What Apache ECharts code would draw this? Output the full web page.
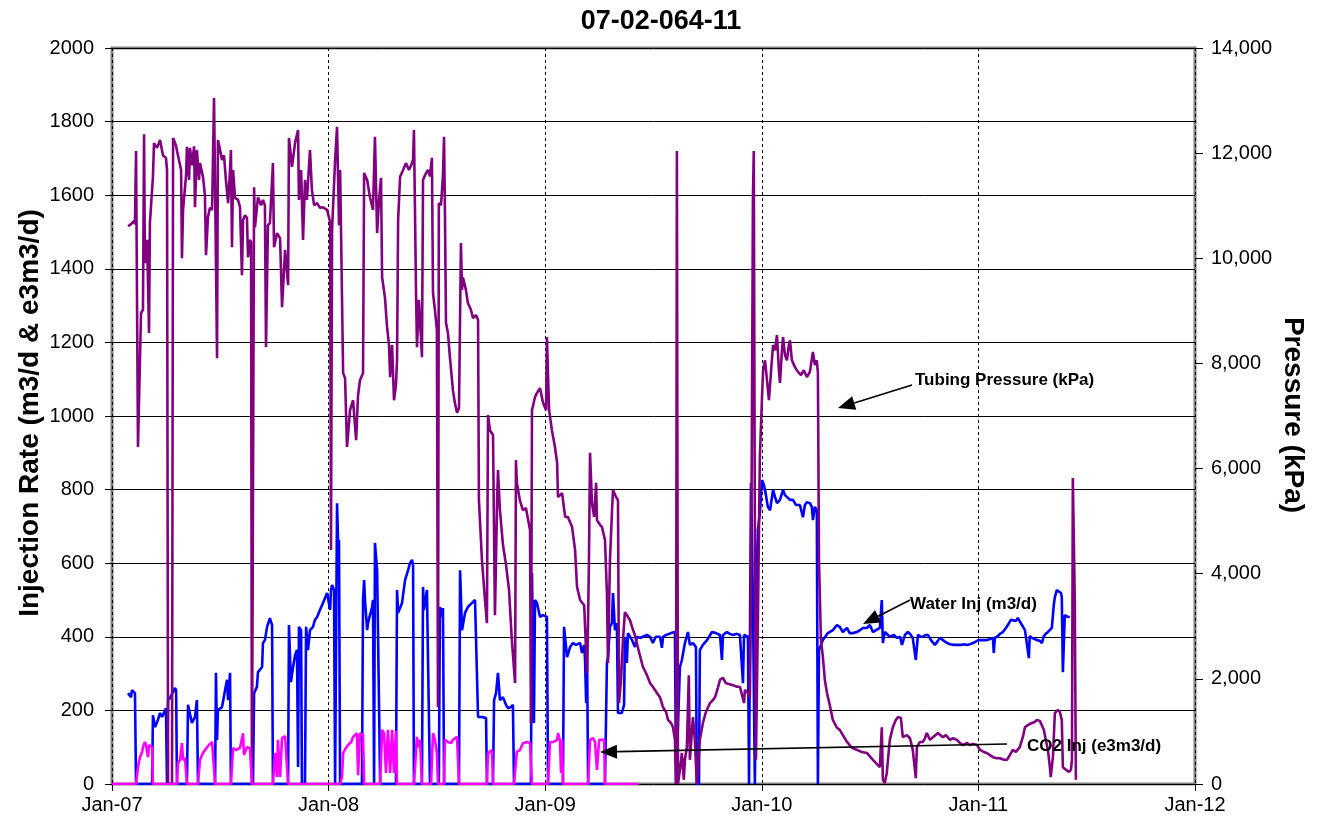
<!DOCTYPE html>
<html>
<head>
<meta charset="utf-8">
<title>07-02-064-11</title>
<script src="https://cdn.jsdelivr.net/npm/echarts@6/dist/echarts.min.js"></script>
<style>
  html, body { margin: 0; padding: 0; background: #ffffff; }
  #main { width: 1319px; height: 827px; }
</style>
</head>
<body>
<div id="main"></div>
<script>
// Well 07-02-064-11 injection history. Dates are decimal years.
const chartTitle = '07-02-064-11';
const yearTicks = [2007, 2008, 2009, 2010, 2011, 2012];
const rateTicks = [0, 200, 400, 600, 800, 1000, 1200, 1400, 1600, 1800, 2000];
const pressureTicks = [0, 2000, 4000, 6000, 8000, 10000, 12000, 14000];

// Tubing pressure, kPa (right axis)
const tubingPressure = [
  [2007.074,10610],[2007.088,10650],[2007.102,10710],[2007.106,10650],[2007.111,12040],[2007.120,6410],
  [2007.134,8960],[2007.143,9020],[2007.148,12360],[2007.152,9910],[2007.162,10350],[2007.171,8580],
  [2007.175,10670],[2007.189,11550],[2007.194,12190],[2007.208,12100],[2007.222,12250],[2007.235,11960],
  [2007.249,11910],[2007.254,11680],[2007.259,0],[2007.277,0],[2007.282,12290],[2007.295,12150],
  [2007.309,11870],[2007.319,11680],[2007.323,10000],[2007.328,10920],[2007.342,11580],[2007.346,12120],
  [2007.356,11490],[2007.360,12100],[2007.369,11770],[2007.379,12130],[2007.383,10970],[2007.392,12060],
  [2007.402,11490],[2007.406,11810],[2007.420,11550],[2007.429,11200],[2007.434,10060],[2007.443,10780],
  [2007.452,10960],[2007.462,10920],[2007.471,13050],[2007.480,9910],[2007.485,8100],[2007.489,12250],
  [2007.499,12060],[2007.508,11870],[2007.517,11960],[2007.526,11490],[2007.536,11050],[2007.545,11680],
  [2007.549,12060],[2007.554,10210],[2007.559,11680],[2007.568,11150],[2007.582,11110],[2007.591,10970],
  [2007.600,9680],[2007.605,10730],[2007.614,10820],[2007.623,10770],[2007.628,10020],[2007.637,10350],
  [2007.642,10310],[2007.646,0],[2007.656,11350],[2007.660,10590],[2007.674,11160],[2007.688,11010],
  [2007.697,11110],[2007.706,11010],[2007.711,8310],[2007.720,10630],[2007.729,10670],[2007.743,11810],
  [2007.748,10210],[2007.762,10480],[2007.776,10380],[2007.785,9070],[2007.799,10160],[2007.813,9490],
  [2007.817,12290],[2007.831,11740],[2007.845,12190],[2007.859,12440],[2007.863,11110],[2007.873,11680],
  [2007.882,10350],[2007.891,11490],[2007.900,11110],[2007.914,12060],[2007.923,11300],[2007.933,11010],
  [2007.947,11050],[2007.960,10960],[2007.974,10970],[2007.993,10920],[2008.007,10690],[2008.011,4450],
  [2008.016,10540],[2008.030,11870],[2008.039,12500],[2008.048,10630],[2008.053,11680],[2008.057,10630],
  [2008.067,7820],[2008.076,7720],[2008.085,6410],[2008.099,7110],[2008.113,7300],[2008.127,6540],
  [2008.136,7400],[2008.145,7680],[2008.159,7820],[2008.164,11620],[2008.178,11490],[2008.191,11160],
  [2008.205,10920],[2008.214,12310],[2008.224,10480],[2008.233,11110],[2008.242,11530],[2008.247,9640],
  [2008.260,9260],[2008.270,8690],[2008.279,8350],[2008.284,7740],[2008.293,8350],[2008.302,7300],
  [2008.311,7590],[2008.316,8060],[2008.321,10730],[2008.330,11550],[2008.344,11680],[2008.357,11810],
  [2008.371,11680],[2008.381,11770],[2008.390,11870],[2008.394,12440],[2008.404,9260],[2008.408,8310],
  [2008.417,9210],[2008.422,8830],[2008.431,8120],[2008.436,11490],[2008.445,11580],[2008.459,11680],
  [2008.468,11560],[2008.477,11910],[2008.482,9340],[2008.491,9020],[2008.500,8640],[2008.505,1460],
  [2008.509,11050],[2008.519,11010],[2008.528,11580],[2008.533,12310],[2008.537,10920],[2008.542,8770],
  [2008.551,8580],[2008.560,8120],[2008.574,7490],[2008.583,7250],[2008.593,7060],[2008.602,7150],
  [2008.611,10290],[2008.616,9400],[2008.620,9640],[2008.634,9400],[2008.643,9150],[2008.657,9020],
  [2008.667,8860],[2008.680,8920],[2008.690,8830],[2008.694,5400],[2008.708,4260],[2008.722,3500],
  [2008.731,3060],[2008.736,7020],[2008.745,6730],[2008.759,6640],[2008.768,3210],[2008.778,5400],
  [2008.782,5970],[2008.791,5210],[2008.805,4550],[2008.819,4170],[2008.833,3690],[2008.846,2740],
  [2008.861,1920],[2008.865,6160],[2008.869,5730],[2008.883,5400],[2008.897,5210],[2008.911,5250],
  [2008.920,5250],[2008.930,4830],[2008.934,1160],[2008.939,7110],[2008.953,7360],[2008.962,7440],
  [2008.976,7530],[2008.990,7250],[2009.004,7110],[2009.008,8500],[2009.018,7110],[2009.031,6730],
  [2009.045,6410],[2009.055,6110],[2009.059,5460],[2009.078,5530],[2009.092,5080],[2009.105,5080],
  [2009.124,4890],[2009.138,4450],[2009.147,3750],[2009.161,3500],[2009.180,3400],[2009.193,2110],
  [2009.198,3120],[2009.202,4260],[2009.207,6300],[2009.216,5340],[2009.226,5080],[2009.235,5730],
  [2009.239,5020],[2009.253,4930],[2009.262,4890],[2009.276,4640],[2009.285,3630],[2009.290,2300],
  [2009.299,4260],[2009.308,5150],[2009.313,5590],[2009.327,5460],[2009.336,5400],[2009.341,1540],
  [2009.350,1980],[2009.359,2740],[2009.368,3270],[2009.382,3180],[2009.391,3120],[2009.401,2990],
  [2009.414,2830],[2009.423,2680],[2009.437,2450],[2009.451,2230],[2009.470,2070],[2009.484,1920],
  [2009.497,1850],[2009.516,1730],[2009.530,1650],[2009.544,1460],[2009.558,1370],[2009.567,1220],
  [2009.581,1160],[2009.590,1080],[2009.599,840],[2009.604,0],[2009.608,12040],[2009.613,0],
  [2009.622,270],[2009.631,590],[2009.640,80],[2009.645,460],[2009.654,700],[2009.663,2070],
  [2009.668,460],[2009.682,1270],[2009.691,840],[2009.700,0],[2009.714,840],[2009.728,1160],
  [2009.742,1370],[2009.761,1540],[2009.775,1600],[2009.784,1650],[2009.797,1830],[2009.807,1980],
  [2009.821,2020],[2009.834,1920],[2009.848,1900],[2009.867,1880],[2009.885,1850],[2009.899,1850],
  [2009.908,1830],[2009.918,1540],[2009.922,1790],[2009.936,1730],[2009.945,1650],[2009.950,3500],
  [2009.954,6540],[2009.959,11110],[2009.963,12040],[2009.968,4770],[2009.973,460],[2009.982,3120],
  [2009.991,6220],[2010.001,7360],[2010.006,7870],[2010.015,8060],[2010.024,7680],[2010.033,7300],
  [2010.043,7870],[2010.052,8350],[2010.061,8250],[2010.070,8540],[2010.079,7870],[2010.084,7630],
  [2010.093,8250],[2010.098,8500],[2010.107,8160],[2010.116,8060],[2010.125,8350],[2010.130,8440],
  [2010.139,8060],[2010.153,7930],[2010.167,7840],[2010.181,7780],[2010.194,7870],[2010.208,7740],
  [2010.222,7840],[2010.236,8220],[2010.245,7970],[2010.254,8060],[2010.259,7820],[2010.264,4260],
  [2010.273,2740],[2010.282,2420],[2010.291,1980],[2010.301,1730],[2010.314,1500],[2010.328,1220],
  [2010.347,1070],[2010.360,1030],[2010.393,800],[2010.416,690],[2010.439,650],[2010.462,610],
  [2010.485,590],[2010.513,460],[2010.536,360],[2010.545,320],[2010.554,1080],[2010.559,80],
  [2010.568,20],[2010.577,210],[2010.591,840],[2010.605,1080],[2010.619,1220],[2010.628,1270],
  [2010.642,1260],[2010.651,890],[2010.670,930],[2010.684,870],[2010.697,650],[2010.711,110],
  [2010.716,700],[2010.730,800],[2010.744,800],[2010.753,870],[2010.762,970],[2010.776,840],
  [2010.790,890],[2010.799,890],[2010.813,970],[2010.822,990],[2010.836,890],[2010.850,930],
  [2010.869,840],[2010.883,870],[2010.901,840],[2010.915,780],[2010.929,740],[2010.947,780],
  [2010.961,740],[2010.975,760],[2010.994,740],[2011.007,650],[2011.025,610],[2011.039,590],
  [2011.053,550],[2011.067,510],[2011.085,490],[2011.099,490],[2011.118,460],[2011.132,460],
  [2011.145,550],[2011.159,650],[2011.173,610],[2011.191,700],[2011.205,890],[2011.215,1080],
  [2011.228,1120],[2011.247,1160],[2011.260,1180],[2011.270,1220],[2011.284,1200],[2011.293,1180],
  [2011.302,1030],[2011.311,840],[2011.321,650],[2011.330,320],[2011.334,130],[2011.344,510],
  [2011.353,1350],[2011.367,1410],[2011.376,1370],[2011.385,1220],[2011.390,320],[2011.404,270],
  [2011.418,230],[2011.427,270],[2011.432,460],[2011.436,5820],[2011.445,3500],[2011.450,80]
];

// Water injection, m3/d (left axis)
const waterInj = [
  [2007.074,247],[2007.088,236],[2007.092,255],[2007.106,247],[2007.111,0],[2007.185,0],
  [2007.189,187],[2007.199,155],[2007.212,174],[2007.222,193],[2007.231,182],[2007.245,200],
  [2007.249,206],[2007.254,0],[2007.259,228],[2007.268,234],[2007.277,236],[2007.291,261],
  [2007.296,255],[2007.300,0],[2007.346,0],[2007.351,215],[2007.360,215],[2007.369,166],
  [2007.383,182],[2007.392,228],[2007.397,0],[2007.476,0],[2007.480,302],[2007.485,120],
  [2007.489,201],[2007.508,209],[2007.522,255],[2007.531,283],[2007.536,228],[2007.545,302],
  [2007.549,0],[2007.651,0],[2007.656,247],[2007.669,264],[2007.674,304],[2007.693,318],
  [2007.697,383],[2007.706,391],[2007.716,427],[2007.729,451],[2007.734,446],[2007.739,432],
  [2007.743,0],[2007.813,0],[2007.817,432],[2007.826,277],[2007.836,318],[2007.845,350],
  [2007.854,364],[2007.859,46],[2007.863,427],[2007.873,418],[2007.877,0],[2007.891,0],
  [2007.896,427],[2007.905,364],[2007.914,418],[2007.928,427],[2007.937,446],[2007.947,454],
  [2007.960,473],[2007.974,492],[2007.983,505],[2007.993,519],[2007.997,522],[2008.007,473],
  [2008.011,527],[2008.016,541],[2008.025,527],[2008.030,0],[2008.034,0],[2008.039,763],
  [2008.044,655],[2008.048,663],[2008.053,0],[2008.154,0],[2008.159,500],[2008.164,554],
  [2008.168,500],[2008.178,418],[2008.182,437],[2008.191,459],[2008.201,481],[2008.205,500],
  [2008.210,0],[2008.214,655],[2008.224,581],[2008.233,576],[2008.238,0],[2008.311,0],
  [2008.316,527],[2008.321,465],[2008.339,492],[2008.353,554],[2008.367,581],[2008.376,600],
  [2008.385,609],[2008.390,595],[2008.394,0],[2008.431,0],[2008.436,535],[2008.440,473],
  [2008.454,527],[2008.463,527],[2008.468,0],[2008.509,0],[2008.514,481],[2008.524,454],
  [2008.528,478],[2008.533,0],[2008.602,0],[2008.607,581],[2008.616,418],[2008.630,465],
  [2008.643,481],[2008.662,492],[2008.676,500],[2008.685,500],[2008.690,182],[2008.708,182],
  [2008.727,179],[2008.731,0],[2008.759,0],[2008.764,228],[2008.773,247],[2008.782,302],
  [2008.791,228],[2008.805,236],[2008.819,215],[2008.828,206],[2008.842,209],[2008.851,215],
  [2008.856,0],[2008.934,0],[2008.939,573],[2008.948,166],[2008.953,500],[2008.962,492],
  [2008.976,454],[2008.990,459],[2009.008,454],[2009.013,0],[2009.082,0],[2009.087,427],
  [2009.101,345],[2009.115,372],[2009.128,383],[2009.142,378],[2009.161,383],[2009.170,356],
  [2009.180,378],[2009.184,337],[2009.189,220],[2009.193,383],[2009.198,0],[2009.276,0],
  [2009.285,329],[2009.290,345],[2009.299,427],[2009.308,437],[2009.313,519],[2009.322,418],
  [2009.331,437],[2009.336,193],[2009.354,193],[2009.364,215],[2009.368,400],[2009.377,329],
  [2009.382,410],[2009.401,391],[2009.414,372],[2009.424,400],[2009.437,397],[2009.451,400],
  [2009.470,405],[2009.484,400],[2009.497,383],[2009.511,400],[2009.530,400],[2009.539,370],
  [2009.544,400],[2009.558,405],[2009.567,410],[2009.581,410],[2009.590,413],[2009.599,413],
  [2009.604,0],[2009.613,0],[2009.622,318],[2009.631,337],[2009.645,383],[2009.659,413],
  [2009.668,378],[2009.682,383],[2009.696,372],[2009.700,0],[2009.710,0],[2009.714,364],
  [2009.728,378],[2009.747,391],[2009.770,413],[2009.788,410],[2009.807,405],[2009.816,337],
  [2009.821,405],[2009.839,413],[2009.853,408],[2009.867,405],[2009.885,408],[2009.899,405],
  [2009.908,402],[2009.913,274],[2009.918,405],[2009.936,400],[2009.941,0],[2009.945,0],
  [2009.950,818],[2009.959,500],[2009.968,0],[2009.978,609],[2009.982,690],[2009.991,736],
  [2010.001,826],[2010.010,812],[2010.015,799],[2010.028,753],[2010.038,744],[2010.052,799],
  [2010.061,780],[2010.070,763],[2010.084,772],[2010.098,799],[2010.107,785],[2010.116,780],
  [2010.130,772],[2010.144,772],[2010.158,758],[2010.176,758],[2010.190,725],[2010.199,758],
  [2010.208,766],[2010.222,763],[2010.231,753],[2010.236,717],[2010.245,753],[2010.254,744],
  [2010.259,0],[2010.264,364],[2010.282,391],[2010.305,410],[2010.328,418],[2010.347,432],
  [2010.360,427],[2010.374,413],[2010.393,424],[2010.406,410],[2010.420,410],[2010.439,413],
  [2010.453,418],[2010.467,424],[2010.485,424],[2010.499,432],[2010.513,413],[2010.527,418],
  [2010.536,413],[2010.545,424],[2010.554,500],[2010.559,383],[2010.568,413],[2010.577,413],
  [2010.591,400],[2010.610,405],[2010.623,397],[2010.638,400],[2010.647,378],[2010.661,405],
  [2010.674,413],[2010.684,408],[2010.697,397],[2010.711,337],[2010.721,405],[2010.734,400],
  [2010.744,400],[2010.757,405],[2010.767,405],[2010.781,391],[2010.790,391],[2010.799,378],
  [2010.813,389],[2010.822,397],[2010.841,389],[2010.855,383],[2010.869,380],[2010.887,378],
  [2010.901,378],[2010.920,378],[2010.934,380],[2010.947,378],[2010.961,380],[2010.975,383],
  [2010.994,389],[2011.007,391],[2011.025,391],[2011.039,391],[2011.053,394],[2011.067,397],
  [2011.071,356],[2011.076,397],[2011.090,402],[2011.099,408],[2011.113,413],[2011.127,424],
  [2011.136,432],[2011.150,446],[2011.159,451],[2011.173,443],[2011.182,451],[2011.191,446],
  [2011.201,432],[2011.215,418],[2011.224,413],[2011.233,342],[2011.237,402],[2011.247,397],
  [2011.260,394],[2011.270,391],[2011.284,389],[2011.293,383],[2011.302,402],[2011.311,408],
  [2011.321,413],[2011.330,418],[2011.339,424],[2011.348,486],[2011.353,508],[2011.362,527],
  [2011.371,527],[2011.381,519],[2011.385,508],[2011.390,304],[2011.395,391],[2011.399,459],
  [2011.413,454],[2011.422,454]
];

// CO2 injection, e3m3/d (left axis)
const co2Inj = [
  [2007.000,0],[2007.111,0],[2007.120,46],[2007.129,73],[2007.139,87],[2007.143,100],[2007.152,114],
  [2007.157,106],[2007.166,73],[2007.171,106],[2007.185,100],[2007.189,0],[2007.300,0],[2007.305,57],
  [2007.314,65],[2007.323,111],[2007.328,65],[2007.337,71],[2007.346,0],[2007.397,0],[2007.406,65],
  [2007.420,84],[2007.429,87],[2007.439,100],[2007.448,106],[2007.462,114],[2007.471,114],[2007.476,0],
  [2007.549,0],[2007.559,98],[2007.573,92],[2007.591,98],[2007.605,138],[2007.609,79],[2007.623,100],
  [2007.637,98],[2007.646,0],[2007.743,0],[2007.753,84],[2007.762,19],[2007.766,120],[2007.776,19],
  [2007.785,125],[2007.790,128],[2007.799,130],[2007.808,133],[2007.813,0],[2008.053,0],[2008.062,19],
  [2008.067,84],[2008.080,98],[2008.090,106],[2008.104,114],[2008.113,128],[2008.122,133],[2008.131,138],
  [2008.136,24],[2008.145,138],[2008.159,133],[2008.164,0],[2008.238,0],[2008.247,147],[2008.256,138],
  [2008.265,30],[2008.274,147],[2008.284,30],[2008.293,147],[2008.302,30],[2008.311,144],[2008.316,0],
  [2008.394,0],[2008.408,128],[2008.413,100],[2008.422,120],[2008.431,0],[2008.473,0],[2008.482,138],
  [2008.491,120],[2008.500,84],[2008.505,0],[2008.533,0],[2008.537,120],[2008.551,114],[2008.565,111],
  [2008.574,120],[2008.593,128],[2008.602,0],[2008.731,0],[2008.736,84],[2008.754,92],[2008.759,0],
  [2008.856,0],[2008.869,87],[2008.883,92],[2008.897,111],[2008.916,114],[2008.930,111],[2008.939,0],
  [2009.013,0],[2009.022,114],[2009.036,114],[2009.055,120],[2009.059,138],[2009.068,120],[2009.073,30],
  [2009.078,120],[2009.082,0],[2009.198,0],[2009.207,120],[2009.221,125],[2009.230,114],[2009.239,38],
  [2009.249,120],[2009.262,120],[2009.272,120],[2009.276,0],[2009.428,0]
];

const FONT = "'Liberation Sans', Arial, Helvetica, sans-serif";

// Straight callout with a filled arrowhead at (x2, y2)
function callout(x1, y1, x2, y2) {
  const dx = x2 - x1, dy = y2 - y1;
  const len = Math.sqrt(dx * dx + dy * dy);
  const ux = dx / len, uy = dy / len;
  const headLen = 17, headHalf = 7;
  const bx = x2 - ux * headLen, by = y2 - uy * headLen;
  return [
    { type: 'line', z: 100, shape: { x1: x1, y1: y1, x2: bx, y2: by },
      style: { stroke: '#000', lineWidth: 1.6 } },
    { type: 'polygon', z: 100,
      shape: { points: [[x2, y2], [bx - uy * headHalf, by + ux * headHalf], [bx + uy * headHalf, by - ux * headHalf]] },
      style: { fill: '#000' } }
  ];
}

function label(text, x, y) {
  return { type: 'text', x: x, y: y, z: 100,
    style: { text: text, font: 'bold 17px ' + FONT, fill: '#000',
             textAlign: 'left', textVerticalAlign: 'middle', align: 'left', verticalAlign: 'middle' } };
}

const chart = echarts.init(document.getElementById('main'), null, { renderer: 'canvas' });

const lineSeries = (name, data, color, axis) => ({
  name: name, type: 'line', data: data, yAxisIndex: axis,
  showSymbol: false, symbol: 'none', smooth: false,
  lineStyle: { color: color, width: 2.6 }, itemStyle: { color: color },
  animation: false
});

chart.setOption({
  backgroundColor: '#ffffff',
  animation: false,
  grid: { left: 112, right: 124, top: 48, bottom: 43, show: true,
          borderColor: '#808080', borderWidth: 3, backgroundColor: 'transparent', containLabel: false },
  xAxis: {
    type: 'value', min: yearTicks[0], max: yearTicks[yearTicks.length - 1], interval: 1,
    axisLine: { show: false },
    axisTick: { show: true, inside: false, length: 7, lineStyle: { color: '#000', width: 1 } },
    axisLabel: { color: '#000', fontFamily: FONT, fontSize: 20, margin: 11,
                 formatter: v => 'Jan-' + String(Math.round(v)).slice(2) },
    splitLine: { show: true, lineStyle: { color: '#000', width: 1, type: [3, 3] } }
  },
  yAxis: [
    { type: 'value', position: 'left', min: rateTicks[0], max: rateTicks[rateTicks.length - 1], interval: 200,
      axisLine: { show: false },
      axisTick: { show: true, length: 7, lineStyle: { color: '#000', width: 1 } },
      axisLabel: { color: '#000', fontFamily: FONT, fontSize: 20, margin: 18,
                   formatter: v => String(v) },
      splitLine: { show: true, lineStyle: { color: '#000', width: 1 } } },
    { type: 'value', position: 'right', min: pressureTicks[0], max: pressureTicks[pressureTicks.length - 1], interval: 2000,
      axisLine: { show: false },
      axisTick: { show: true, length: 8, lineStyle: { color: '#000', width: 1 } },
      axisLabel: { color: '#000', fontFamily: FONT, fontSize: 20, margin: 16,
                   formatter: v => v.toLocaleString('en-US') },
      splitLine: { show: false } }
  ],
  series: [
    lineSeries('Water Inj (m3/d)', waterInj, '#0000ff', 0),
    lineSeries('Tubing Pressure (kPa)', tubingPressure, '#800080', 1),
    lineSeries('CO2 Inj (e3m3/d)', co2Inj, '#ff00ff', 0)
  ],
  graphic: [
    { type: 'text', x: 661, y: 22, z: 100,
      style: { text: chartTitle, font: 'bold 27px ' + FONT, fill: '#000',
               textAlign: 'center', textVerticalAlign: 'middle', align: 'center', verticalAlign: 'middle' } },
    { type: 'text', x: 30, y: 413, rotation: Math.PI / 2, z: 100,
      style: { text: 'Injection Rate (m3/d & e3m3/d)', font: 'bold 28px ' + FONT, fill: '#000',
               textAlign: 'center', textVerticalAlign: 'middle', align: 'center', verticalAlign: 'middle' } },
    { type: 'text', x: 1293, y: 415, rotation: -Math.PI / 2, z: 100,
      style: { text: 'Pressure (kPa)', font: 'bold 28px ' + FONT, fill: '#000',
               textAlign: 'center', textVerticalAlign: 'middle', align: 'center', verticalAlign: 'middle' } },
    label('Tubing Pressure (kPa)', 915, 380),
    ...callout(912, 385, 838, 408),
    label('Water Inj (m3/d)', 910, 604),
    ...callout(910, 600, 863, 624),
    label('CO2 Inj (e3m3/d)', 1027, 746),
    ...callout(1007, 744, 600, 752)
  ]
});
</script>
</body>
</html>
